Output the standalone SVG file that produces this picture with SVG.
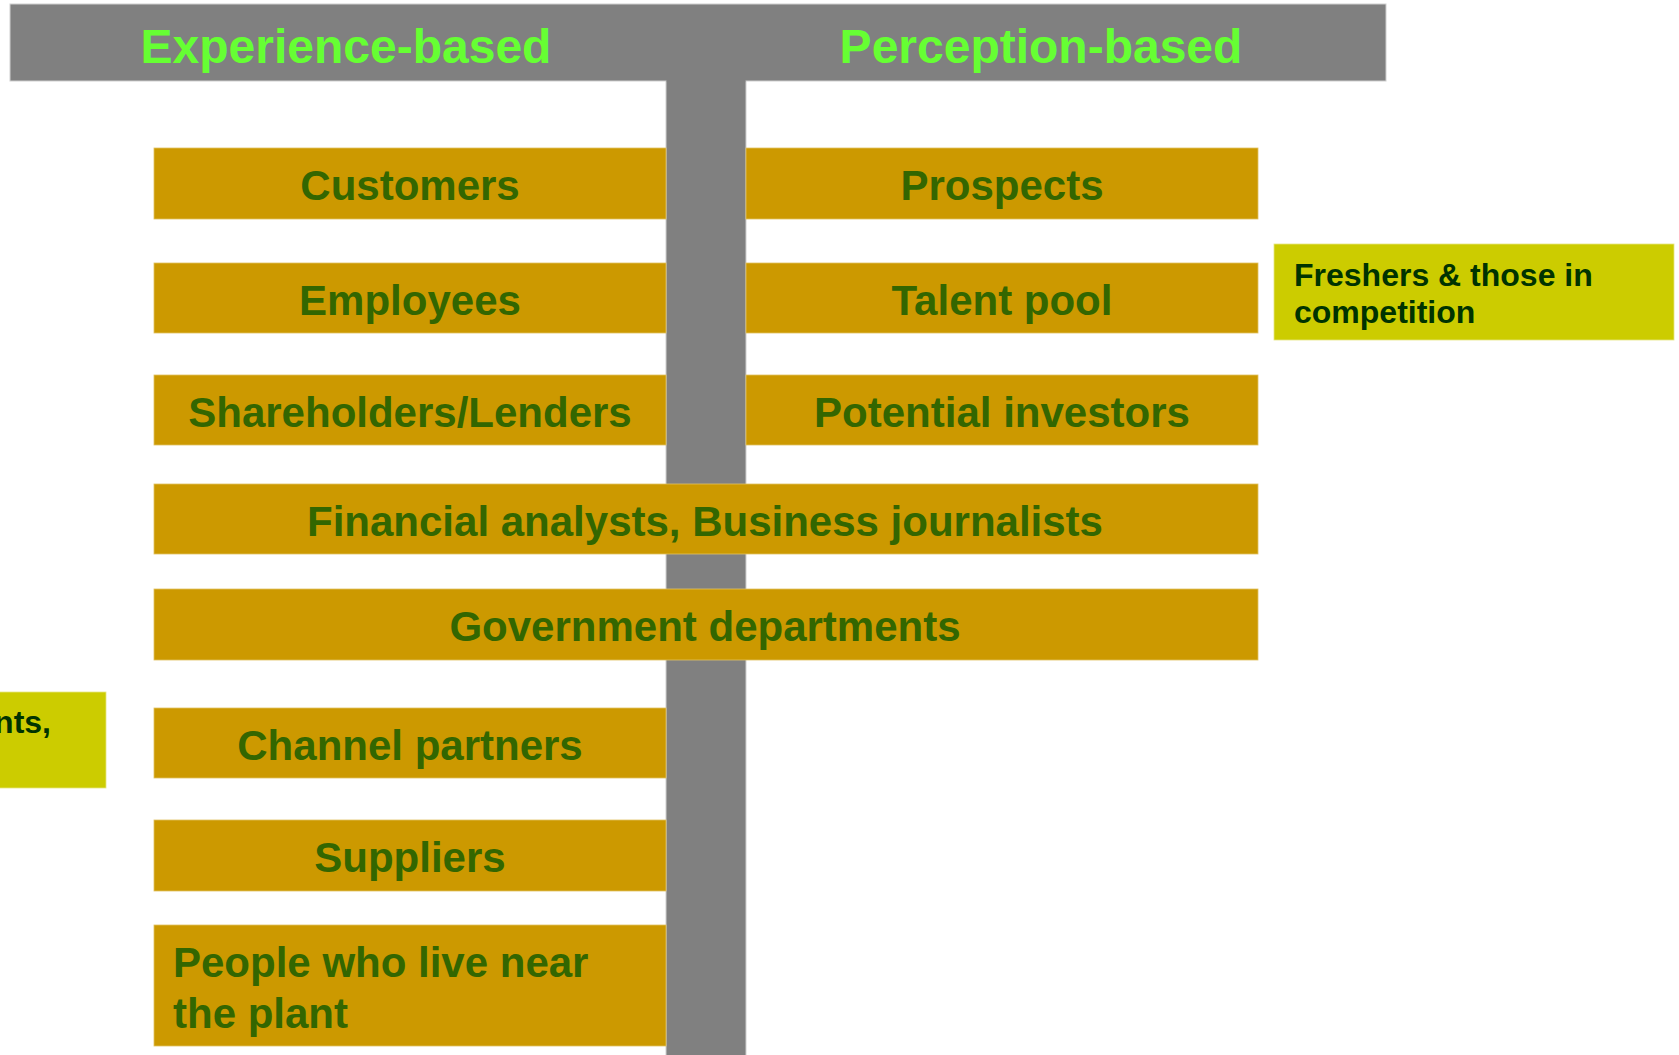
<svg xmlns="http://www.w3.org/2000/svg" width="1679" height="1055" viewBox="0 0 1679 1055">
<style>
.bar{fill:#808080;stroke:#cfcfcf;stroke-width:1}
.box{fill:#CC9900;stroke:#e0c060;stroke-width:0.8}
.note{fill:#CCCC00;stroke:#e6e680;stroke-width:0.8}
.hdr{font-family:"Liberation Sans",Arial,sans-serif;font-weight:bold;font-size:48px;fill:#66FF33;text-anchor:middle}
.lbl{font-family:"Liberation Sans",Arial,sans-serif;font-weight:bold;font-size:42px;fill:#336600;text-anchor:middle}
.lbll{font-family:"Liberation Sans",Arial,sans-serif;font-weight:bold;font-size:42px;fill:#336600}
.ntx{font-family:"Liberation Sans",Arial,sans-serif;font-weight:bold;font-size:32px;fill:#003300}
</style>
<rect width="1679" height="1055" fill="#ffffff"/>
<g id="t-frame">
<rect class="bar" x="666" y="60" width="80" height="1000"/>
<rect class="bar" x="10" y="4" width="1376" height="77"/>
<rect x="666.5" y="60" width="79" height="22" fill="#808080"/>
<text class="hdr" x="346" y="63">Experience-based</text>
<text class="hdr" x="1041" y="63">Perception-based</text>
</g>
<g id="connectors"></g>
<g id="customers"><rect class="box" x="154" y="148" width="512" height="71"/><text class="lbl" x="410" y="200">Customers</text></g>
<g id="prospects"><rect class="box" x="746" y="148" width="512" height="71"/><text class="lbl" x="1002" y="200">Prospects</text></g>
<g id="employees"><rect class="box" x="154" y="263" width="512" height="70"/><text class="lbl" x="410" y="315">Employees</text></g>
<g id="talent-pool"><rect class="box" x="746" y="263" width="512" height="70"/><text class="lbl" x="1002" y="315">Talent pool</text></g>
<g id="freshers"><rect class="note" x="1274" y="244" width="400" height="96"/><text class="ntx" x="1294" y="286">Freshers &amp; those in</text><text class="ntx" x="1294" y="323">competition</text></g>
<g id="shareholders"><rect class="box" x="154" y="375" width="512" height="70"/><text class="lbl" x="410" y="427">Shareholders/Lenders</text></g>
<g id="potential-investors"><rect class="box" x="746" y="375" width="512" height="70"/><text class="lbl" x="1002" y="427">Potential investors</text></g>
<g id="financial"><rect class="box" x="154" y="484" width="1104" height="70"/><text class="lbl" x="705" y="536">Financial analysts, Business journalists</text></g>
<g id="government"><rect class="box" x="154" y="589" width="1104" height="71"/><text class="lbl" x="705" y="641">Government departments</text></g>
<g id="left-note"><rect class="note" x="-295" y="692" width="401" height="96"/><text class="ntx" x="51" y="733" text-anchor="end">nts,</text></g>
<g id="channel-partners"><rect class="box" x="154" y="708" width="512" height="70"/><text class="lbl" x="410" y="760">Channel partners</text></g>
<g id="suppliers"><rect class="box" x="154" y="820" width="512" height="71"/><text class="lbl" x="410" y="872">Suppliers</text></g>
<g id="people-near-plant"><rect class="box" x="154" y="925" width="512" height="121"/><text class="lbll" x="173" y="977">People who live near</text><text class="lbll" x="173" y="1028">the plant</text></g>
</svg>
